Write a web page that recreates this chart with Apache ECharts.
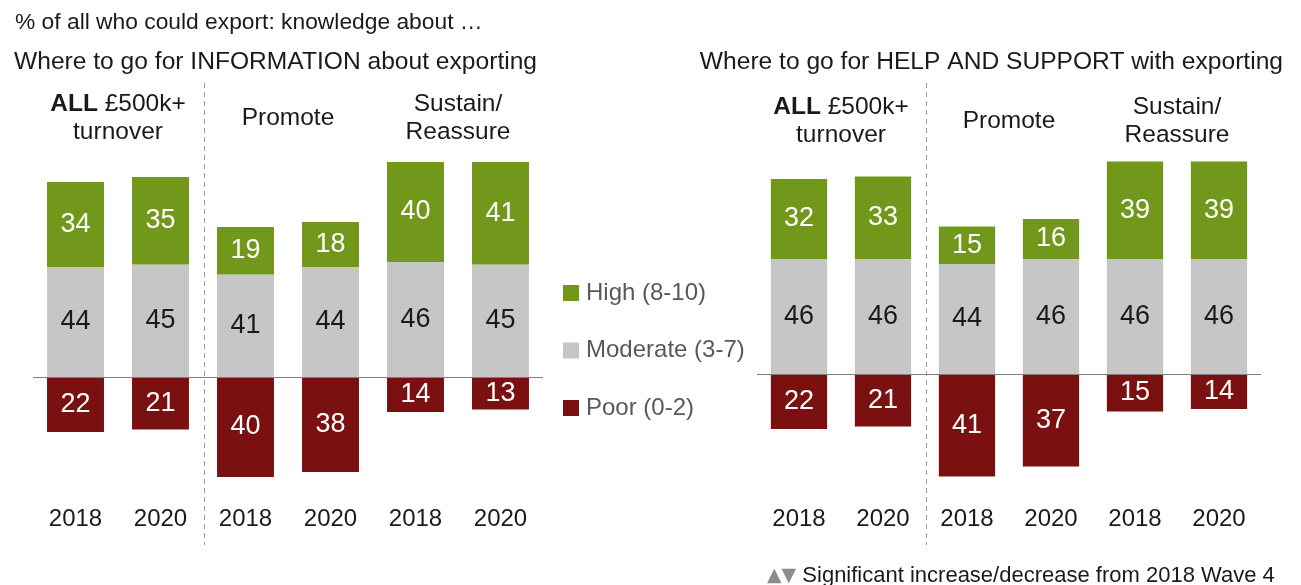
<!DOCTYPE html>
<html>
<head>
<meta charset="utf-8">
<script src="https://cdn.jsdelivr.net/npm/echarts@6/dist/echarts.min.js"></script>
<style>
  html, body { margin: 0; padding: 0; background: #fff; }
  #chart { width: 1301px; height: 585px; }
</style>
</head>
<body>
<div id="chart"></div>
<script>
// Survey years shown under each bar, grouped in pairs per segment
const years = ['2018', '2020', '2018', '2020', '2018', '2020'];
const seriesNames = ['High (8-10)', 'Moderate (3-7)', 'Poor (0-2)'];

// Knowledge of where to go for INFORMATION about exporting (%)
const infoHigh = [34, 35, 19, 18, 40, 41];
const infoModerate = [44, 45, 41, 44, 46, 45];
const infoPoor = [22, 21, 40, 38, 14, 13];

// Knowledge of where to go for HELP AND SUPPORT with exporting (%)
const helpHigh = [32, 33, 15, 16, 39, 39];
const helpModerate = [46, 46, 44, 46, 46, 46];
const helpPoor = [22, 21, 41, 37, 15, 14];

const FONT = "'Liberation Sans', Arial, Helvetica, sans-serif";
const COLORS = { high: '#71971b', moderate: '#c6c6c6', poor: '#7a1010' };

// Panel geometry
const panels = [
  { left: 33, width: 510, top: 127, height: 375, headerY: 118, labelMargin: 5 },
  { left: 757, width: 504, top: 124, height: 375, headerY: 121, labelMargin: 8 }
];

const chart = echarts.init(document.getElementById('chart'), null, { renderer: 'canvas' });

function valueLabel(color) {
  return {
    show: true,
    position: 'inside',
    color: color,
    fontSize: 27,
    fontFamily: FONT,
    formatter: p => String(Math.abs(p.value))
  };
}

function panelSeries(idx, high, moderate, poor) {
  return [
    {
      name: seriesNames[1], type: 'bar', stack: 'p' + idx,
      xAxisIndex: idx, yAxisIndex: idx,
      barCategoryGap: '33%',
      itemStyle: { color: COLORS.moderate },
      label: valueLabel('#1a1a1a'),
      data: moderate
    },
    {
      name: seriesNames[0], type: 'bar', stack: 'p' + idx,
      xAxisIndex: idx, yAxisIndex: idx,
      barCategoryGap: '33%',
      itemStyle: { color: COLORS.high },
      label: valueLabel('#ffffff'),
      data: high
    },
    {
      name: seriesNames[2], type: 'bar', stack: 'p' + idx,
      xAxisIndex: idx, yAxisIndex: idx,
      barCategoryGap: '33%',
      itemStyle: { color: COLORS.poor },
      label: valueLabel('#ffffff'),
      data: poor.map(v => -v),
      markLine: {
        silent: true,
        symbol: 'none',
        label: { show: false },
        lineStyle: { color: '#808080', width: 1, type: 'solid' },
        data: [{ yAxis: 0 }]
      }
    }
  ];
}

// Segment headers and dashed dividers for one panel
function panelGraphics(p) {
  const cat = p.width / 6;
  const cx = k => p.left + cat * (2 * k + 1);
  const base = { fontSize: 24.5, fontFamily: FONT, fill: '#1a1a1a', align: 'center', verticalAlign: 'middle', lineHeight: 28 };
  return [
    {
      type: 'text', x: cx(0), y: p.headerY,
      style: Object.assign({}, base, {
        text: '{b|ALL} £500k+\nturnover',
        rich: { b: { fontWeight: 'bold', fontSize: 24.5, fontFamily: FONT, fill: '#1a1a1a' } }
      })
    },
    { type: 'text', x: cx(1), y: p.headerY, style: Object.assign({}, base, { text: 'Promote' }) },
    { type: 'text', x: cx(2), y: p.headerY, style: Object.assign({}, base, { text: 'Sustain/\nReassure' }) },
    {
      type: 'line',
      shape: { x1: p.left + cat * 2 + 1.5, y1: 83, x2: p.left + cat * 2 + 1.5, y2: 545 },
      style: { stroke: '#9a9a9a', lineWidth: 1, lineDash: [5, 4] }
    }
  ];
}

const option = {
  animation: false,
  textStyle: { fontFamily: FONT },
  title: [
    {
      text: '% of all who could export: knowledge about …',
      left: 10, top: 6,
      textStyle: { fontSize: 22.8, fontWeight: 'normal', color: '#1a1a1a', fontFamily: FONT }
    },
    {
      text: 'Where to go for INFORMATION about exporting',
      left: 9, top: 45,
      textStyle: { fontSize: 24.6, fontWeight: 'normal', color: '#1a1a1a', fontFamily: FONT }
    },
    {
      text: 'Where to go for HELP AND SUPPORT with exporting',
      right: 13, top: 45,
      textStyle: { fontSize: 24.6, fontWeight: 'normal', color: '#1a1a1a', fontFamily: FONT }
    },
    {
      text: '{t|▲▼} Significant increase/decrease from 2018 Wave 4',
      left: 762, top: 560,
      textStyle: {
        fontSize: 22, fontWeight: 'normal', color: '#1a1a1a', fontFamily: FONT,
        rich: { t: { fontSize: 19, color: '#8c8c8c', fontFamily: "'DejaVu Sans', sans-serif" } }
      }
    }
  ],
  legend: {
    orient: 'vertical',
    left: 558, top: 276,
    itemWidth: 16, itemHeight: 16,
    itemGap: 33.5,
    icon: 'rect',
    selectedMode: false,
    data: seriesNames,
    textStyle: { fontSize: 24, color: '#595959', fontFamily: FONT, padding: [0, 0, 0, 2] }
  },
  grid: panels.map(p => ({ left: p.left, width: p.width, top: p.top, height: p.height })),
  xAxis: panels.map((p, i) => ({
    type: 'category', gridIndex: i, data: years,
    axisLine: { show: false, onZero: false },
    axisTick: { show: false },
    axisLabel: { fontSize: 24, color: '#1a1a1a', fontFamily: FONT, margin: p.labelMargin }
  })),
  yAxis: panels.map((p, i) => ({
    type: 'value', gridIndex: i, min: -50, max: 100,
    show: false, splitLine: { show: false }
  })),
  series: [
    ...panelSeries(0, infoHigh, infoModerate, infoPoor),
    ...panelSeries(1, helpHigh, helpModerate, helpPoor)
  ],
  graphic: [...panelGraphics(panels[0]), ...panelGraphics(panels[1])]
};

chart.setOption(option);
</script>
</body>
</html>
